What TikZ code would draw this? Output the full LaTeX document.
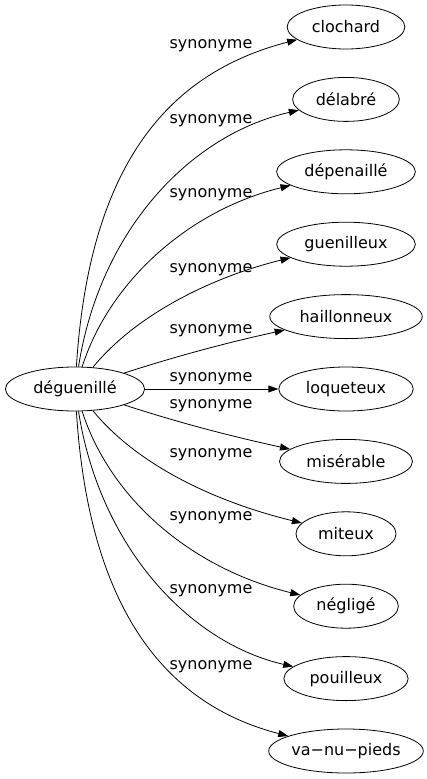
\documentclass[tikz,border=0pt]{standalone}
\usepackage{fontspec}
\setmainfont{DejaVu Sans}
\usetikzlibrary{arrows.meta,shapes.geometric}

\begin{document}
\begin{tikzpicture}[>={Triangle[length=10pt,width=7pt]},x=1pt,y=-1pt,line width=0.8pt,
    font=\fontsize{16}{19}\selectfont,
    word/.style={ellipse, draw, inner xsep=7.5pt, inner ysep=0pt, minimum height=44pt},
    rel/.style={inner sep=0pt}]
  \useasboundingbox (0,0) rectangle (427,779);
  % the word and its synonyms
  \node (deg)  [word] at (75,389)    {déguenillé};
  \node (cloc) [word] at (346,27)    {clochard};
  \node (dela) [word] at (346,99.4)  {délabré};
  \node (depe) [word] at (346,171.8) {dépenaillé};
  \node (guen) [word] at (346,244.2) {guenilleux};
  \node (hail) [word] at (346,316.6) {haillonneux};
  \node (loqu) [word] at (346,389)   {loqueteux};
  \node (mise) [word] at (346,461.4) {misérable};
  \node (mite) [word] at (346,533.8) {miteux};
  \node (negl) [word] at (346,606.2) {négligé};
  \node (poui) [word] at (346,678.6) {pouilleux};
  \node (vanu) [word, inner xsep=0pt, minimum width=150pt] at (346,751) {va−nu−pieds};
  % edge labels
  \node (l1)  [rel] at (211,46)  {synonyme};
  \node (l2)  [rel] at (211,121) {synonyme};
  \node (l3)  [rel] at (211,195) {synonyme};
  \node (l4)  [rel] at (211,270) {synonyme};
  \node (l5)  [rel] at (211,331) {synonyme};
  \node (l6)  [rel] at (211,379) {synonyme};
  \node (l7)  [rel] at (211,406) {synonyme};
  \node (l8)  [rel] at (211,455) {synonyme};
  \node (l9)  [rel] at (211,518) {synonyme};
  \node (l10) [rel] at (211,591) {synonyme};
  \node (l11) [rel] at (211,667) {synonyme};
  % edges
  \draw[->] (deg) .. controls (90,150) and (180,70) .. (cloc);
  \draw[->] (deg) .. controls (100,230) and (190,135) .. (dela);
  \draw[->] (deg) .. controls (110,280) and (190,210) .. (depe);
  \draw[->] (deg) .. controls (140,310) and (220,275) .. (guen);
  \draw[->] (deg) .. controls (180,355) and (230,342) .. (hail);
  \draw[->] (deg) -- (loqu);
  \draw[->] (deg) .. controls (180,423) and (230,436) .. (mise);
  \draw[->] (deg) .. controls (140,468) and (220,503) .. (mite);
  \draw[->] (deg) .. controls (110,498) and (190,568) .. (negl);
  \draw[->] (deg) .. controls (100,548) and (190,643) .. (poui);
  \draw[->] (deg) .. controls (90,628) and (180,708) .. (vanu);
\end{tikzpicture}
\end{document}
